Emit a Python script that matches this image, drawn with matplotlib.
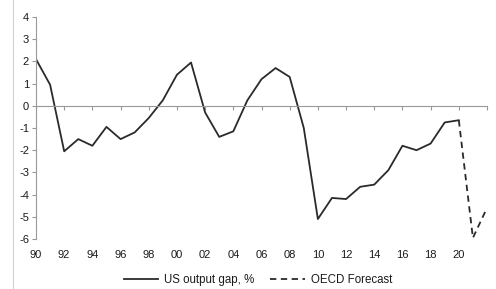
import numpy as np
import matplotlib.pyplot as plt
from matplotlib.lines import Line2D

plt.rcParams['font.family'] = ['Liberation Sans', 'DejaVu Sans']
plt.rcParams['axes.unicode_minus'] = False

# US output gap, % (1990-2020) and OECD forecast (2020-2022)
years = np.arange(1990, 2021)
gap = [2.1, 0.95, -2.05, -1.5, -1.8, -0.95, -1.5, -1.2, -0.55, 0.25,
       1.4, 1.95, -0.3, -1.4, -1.15, 0.25, 1.2, 1.7, 1.3, -1.0,
       -5.1, -4.15, -4.2, -3.65, -3.55, -2.9, -1.8, -2.0, -1.7, -0.75,
       -0.65]
fc_years = [2020, 2021, 2022]
fc_gap = [-0.65, -5.95, -4.6]

tick_years = np.arange(1990, 2023, 2)
label_years = np.arange(1990, 2021, 2)
labels = ['%02d' % (y % 100) for y in label_years]

fig = plt.figure(figsize=(4.96, 2.89), dpi=100)
ax = fig.add_axes([36/496, 1-239/289, (487-36)/496, (239-17)/289])

ax.plot(years, gap, color='#2a2a2a', lw=1.3, label='US output gap, %')
ax.plot(fc_years, fc_gap, color='#2a2a2a', lw=1.3, ls=(0, (3.5, 2.5)), label='OECD Forecast')

ax.set_xlim(1990, 2022)
ax.set_ylim(-6, 4)
ax.set_yticks(range(-6, 5))
ax.tick_params(axis='y', labelsize=8, length=3, color='#999999', labelcolor='#1a1a1a', pad=2)

for s in ['top', 'right']:
    ax.spines[s].set_visible(False)
ax.spines['left'].set_color('#999999')
ax.spines['bottom'].set_position(('data', 0))
ax.spines['bottom'].set_color('#999999')
ax.set_xticks(tick_years)
ax.tick_params(axis='x', length=3, color='#999999', labelbottom=False)

sec = ax.secondary_xaxis(0.0)
sec.set_xticks(label_years)
sec.set_xticklabels(labels)
sec.spines['bottom'].set_visible(False)
sec.tick_params(length=0, labelsize=8, labelcolor='#1a1a1a', pad=8)

fig.legend(loc='lower center', bbox_to_anchor=(0.52, -0.025), ncol=2, frameon=False,
           fontsize=8.3, handlelength=3.0, columnspacing=1.4, handletextpad=0.5,
           labelcolor='#1a1a1a')

fig.add_artist(Line2D([13/496, 13/496], [0, 1], color='#d0d0d0', lw=0.8))

plt.savefig('out.png', dpi=100)
